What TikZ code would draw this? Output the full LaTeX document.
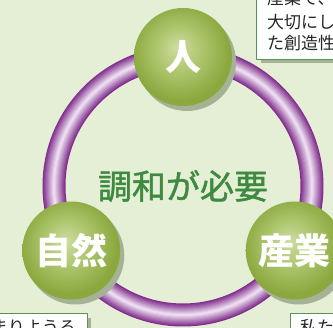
\documentclass[tikz,border=0pt]{standalone}
\usepackage{fontspec}
\newfontfamily\cjk{Noto Sans CJK JP}
\newfontfamily\cjkmed[FakeBold=1.3]{Noto Sans CJK JP}
\usetikzlibrary{shadows}
\definecolor{bg}{RGB}{229,239,214}
\definecolor{ringdark}{RGB}{128,46,140}
\definecolor{ringlight}{RGB}{236,220,240}
\definecolor{gl}{RGB}{206,221,162}
\definecolor{gm}{RGB}{172,197,108}
\definecolor{gd}{RGB}{138,168,62}
\definecolor{shadowc}{RGB}{166,178,150}
\definecolor{tgreen}{RGB}{62,138,64}
\definecolor{boxline}{RGB}{88,148,88}
\pgfdeclareradialshading{ballg}{\pgfpoint{-3bp}{5bp}}{color(0bp)=(gl); color(12bp)=(gm); color(25bp)=(gd); color(50bp)=(gd)}
\tikzset{
  ball/.style={circle, minimum size=98pt, inner sep=0pt, shading=ballg,
    drop shadow={shadow xshift=4pt, shadow yshift=-5pt, fill=shadowc, opacity=1},
    text=white, font=\cjk\bfseries\fontsize{36}{36}\selectfont},
  centertext/.style={text=tgreen, font=\cjkmed\fontsize{34}{34}\selectfont, inner sep=0pt},
  infobox/.style={draw=boxline, line width=1.3pt, fill=white, inner sep=0pt,
    drop shadow={shadow xshift=4pt, shadow yshift=-4pt, fill=shadowc, opacity=1}},
  boxtext/.style={font=\cjk\fontsize{17}{17}\selectfont, text=black!85, inner sep=0pt}
}
\begin{document}
\begin{tikzpicture}[x=1pt,y=1pt]
\useasboundingbox (0,0) rectangle (333,328);
\clip (0,0) rectangle (333,328);
\fill[bg] (0,0) rectangle (333,328);
% information boxes (cut by the frame)
\node[infobox, anchor=south west, minimum width=100pt, minimum height=90pt] (boxA) at (256,268) {};
\node[boxtext, anchor=base west] (tA1) at (267,323.5) {産業で、ジ};
\node[boxtext, anchor=base west] (tA2) at (267,299.5) {大切にし};
\node[boxtext, anchor=base west] (tA3) at (267,278.5) {た創造性};
\node[infobox, anchor=north east, minimum width=110pt, minimum height=40pt] (boxB) at (88,15) {};
\node[boxtext, anchor=base east] (tB) at (76,-6) {まりようる};
\node[infobox, anchor=north west, minimum width=80pt, minimum height=40pt] (boxC) at (290,15) {};
\node[boxtext, anchor=base west] (tC) at (300,-6) {私た};
% ring
\coordinate (ring) at (183,142);
\foreach \i in {0,...,10} {
  \pgfmathsetmacro\w{23-2.1*\i}
  \pgfmathsetmacro\p{\i*10}
  \draw[line width=\w pt, color=ringlight!\p!ringdark] (ring) circle (129);
}
\node[centertext] (center) at (ring) {調和が必要};
% three balls
\node[ball] (hito) at ([shift={(90:129)}]ring) {人};
\node[ball] (shizen) at ([shift={(210:129)}]ring) {自然};
\node[ball] (sangyo) at ([shift={(330:129)}]ring) {産業};
\end{tikzpicture}
\end{document}
